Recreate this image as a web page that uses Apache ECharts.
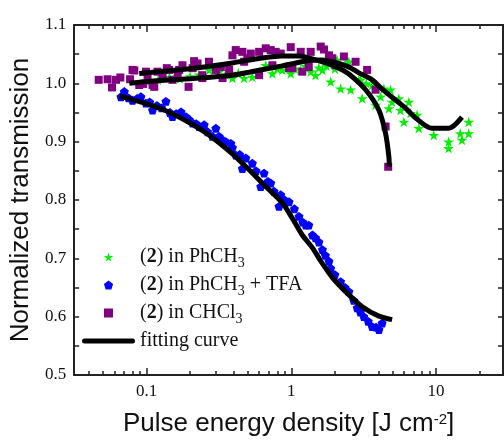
<!DOCTYPE html>
<html>
<head>
<meta charset="utf-8">
<script src="https://cdn.jsdelivr.net/npm/echarts@6/dist/echarts.min.js"></script>
<style>
html,body{margin:0;padding:0;background:#fff;}
#chart{width:504px;height:447px;}
</style>
</head>
<body>
<div id="chart"></div>
<script>
// ---- data ----
const xMajorTicks = [0.1, 1, 10];
const xMinorTicks = [0.04,0.05,0.06,0.07,0.08,0.09,0.2,0.3,0.4,0.5,0.6,0.7,0.8,0.9,2,3,4,5,6,7,8,9,20];
const yTickLabels = ['0.5','0.6','0.7','0.8','0.9','1.0','1.1'];

const seriesNames = ['PhCH3', 'PhCH3+TFA', 'CHCl3', 'fitting curve'];

const phch3 = [[0.1,1.004],[0.12,1.006],[0.144,1.011],[0.17,1.008],[0.2,1.012],[0.23,1.015],[0.271,1.023],[0.317,1.020],[0.35,1.015],[0.392,1.009],[0.43,1.018],[0.472,1.009],[0.538,1.011],[0.6,1.020],[0.666,1.031],[0.74,1.017],[0.8,1.025],[0.867,1.023],[0.93,1.028],[0.991,1.017],[1.06,1.025],[1.16,1.023],[1.25,1.030],[1.36,1.020],[1.47,1.014],[1.55,1.027],[1.64,1.023],[1.75,1.030],[1.87,1.003],[2.0,1.025],[2.07,1.040],[2.19,0.991],[2.35,1.032],[2.5,1.037],[2.57,0.989],[2.93,1.006],[3.01,1.006],[3.09,0.974],[3.3,1.000],[3.62,0.997],[3.82,0.963],[4.14,0.977],[4.36,0.991],[4.72,0.957],[4.85,0.989],[4.97,0.968],[5.53,0.974],[5.68,0.954],[5.99,0.934],[6.48,0.968],[6.66,0.949],[7.39,0.946],[7.6,0.923],[9.64,0.911],[12.2,0.900],[12.2,0.889],[14.7,0.914],[15.1,0.903],[16.8,0.934],[16.8,0.914]];

const phch3Tfa = [[0.0665,0.977],[0.0702,0.986],[0.075,0.975],[0.080,0.971],[0.086,0.974],[0.0914,0.977],[0.099,0.966],[0.105,0.968],[0.110,0.954],[0.118,0.962],[0.127,0.958],[0.136,0.969],[0.145,0.950],[0.151,0.943],[0.16,0.948],[0.173,0.951],[0.187,0.943],[0.197,0.938],[0.208,0.932],[0.22,0.931],[0.231,0.926],[0.25,0.929],[0.264,0.917],[0.285,0.909],[0.301,0.923],[0.317,0.909],[0.335,0.903],[0.353,0.900],[0.382,0.897],[0.392,0.890],[0.414,0.877],[0.44,0.878],[0.459,0.854],[0.485,0.872],[0.538,0.863],[0.57,0.850],[0.615,0.823],[0.648,0.846],[0.69,0.832],[0.721,0.829],[0.76,0.815],[0.822,0.789],[0.845,0.809],[0.9,0.800],[0.964,0.797],[1.05,0.785],[1.13,0.772],[1.2,0.762],[1.26,0.757],[1.32,0.757],[1.4,0.740],[1.47,0.735],[1.55,0.728],[1.64,0.715],[1.72,0.705],[1.82,0.695],[1.87,0.683],[2.0,0.672],[2.19,0.660],[2.35,0.650],[2.5,0.643],[2.7,0.628],[2.85,0.615],[3.0,0.608],[3.17,0.600],[3.4,0.592],[3.62,0.583],[3.85,0.582],[4.03,0.578],[4.24,0.589]];

const chcl3 = [[0.0467,1.006],[0.0538,1.007],[0.0577,0.993],[0.0615,1.006],[0.0659,1.010],[0.0769,1.007],[0.080,1.023],[0.0823,1.022],[0.089,0.997],[0.0949,0.999],[0.099,1.020],[0.1016,1.014],[0.110,0.997],[0.113,0.994],[0.119,1.020],[0.129,1.011],[0.138,1.026],[0.143,1.023],[0.151,1.006],[0.164,1.014],[0.168,1.023],[0.177,1.031],[0.195,0.994],[0.208,1.026],[0.213,1.038],[0.225,1.034],[0.243,1.014],[0.243,1.009],[0.270,1.037],[0.301,1.023],[0.326,1.028],[0.335,1.009],[0.372,1.023],[0.392,1.048],[0.413,1.057],[0.459,1.054],[0.472,1.037],[0.497,1.043],[0.525,1.051],[0.599,1.054],[0.599,1.014],[0.666,1.060],[0.721,1.057],[0.740,1.031],[0.780,1.054],[0.845,1.051],[0.964,1.026],[0.991,1.062],[1.016,1.026],[1.161,1.054],[1.19,1.020],[1.32,1.028],[1.361,1.054],[1.596,1.063],[1.682,1.058],[1.820,1.048],[1.919,1.043],[2.023,1.031],[2.309,1.046],[2.78,1.037],[3.34,1.023],[3.82,0.989],[4.48,0.926],[4.67,0.857]];

const fitPhch3 = [[0.076,1.000],[0.1,1.003],[0.2,1.008],[0.392,1.014],[0.51,1.019],[0.867,1.030],[1.32,1.039],[1.6,1.040],[1.92,1.037],[2.13,1.034],[2.5,1.028],[2.93,1.018],[3.62,1.006],[4.24,0.990],[5.53,0.967],[6.13,0.958],[7.2,0.941],[9.4,0.923],[12.2,0.923],[15.1,0.942]];
const fitTfa = [[0.065,0.978],[0.08,0.972],[0.1,0.965],[0.136,0.953],[0.2,0.932],[0.25,0.917],[0.3,0.903],[0.392,0.879],[0.5,0.854],[0.666,0.823],[0.867,0.795],[1.02,0.768],[1.19,0.740],[1.4,0.718],[1.6,0.695],[1.82,0.675],[2.0,0.662],[2.37,0.643],[3.09,0.617],[4.03,0.601],[4.97,0.595]];
const fitChcl3 = [[0.089,1.017],[0.15,1.022],[0.25,1.028],[0.392,1.035],[0.51,1.040],[0.867,1.047],[1.13,1.047],[1.26,1.045],[1.73,1.035],[2.13,1.026],[2.5,1.016],[3.26,0.989],[4.03,0.954],[4.48,0.914],[4.72,0.874],[4.75,0.857]];

// ---- chart ----
const STAR = 'path://M50,0 L61,35 L98,35 L68,57 L79,91 L50,70 L21,91 L32,57 L2,35 L39,35 Z';
const PENT = 'path://M50,0 L98,36 L80,95 L20,95 L2,36 Z';
const SQUARE = 'path://M0,0 L10,0 L10,10 L0,10 Z';
const BAR = 'path://M5,0 L101,0 A5,5 0 0 1 101,10 L5,10 A5,5 0 0 1 5,0 Z';
const AX = '#222';
const SERIF = '"Liberation Serif","Times New Roman",serif';
const SANS = '"Liberation Sans",Arial,sans-serif';
const XMIN = 0.0316, XMAX = 29;

const legendLabels = {
  'PhCH3': '({b|2}) in PhCH{sub|3}',
  'PhCH3+TFA': '({b|2}) in PhCH{sub|3} + TFA',
  'CHCl3': '({b|2}) in CHCl{sub|3}',
  'fitting curve': 'fitting curve'
};
const legendIcons = {'PhCH3': STAR, 'PhCH3+TFA': PENT, 'CHCl3': SQUARE, 'fitting curve': BAR};

function xAxisDef(pos, values, len, labels) {
  return {
    type: 'log', logBase: 10, min: XMIN, max: XMAX, position: pos,
    axisLine: {show: true, onZero: false, lineStyle: {color: AX, width: 2}},
    axisTick: {show: true, inside: true, length: len, customValues: values, lineStyle: {color: AX, width: 1.5}},
    axisLabel: labels ? {show: true, customValues: xMajorTicks, margin: 8, color: '#111', fontFamily: SERIF, fontSize: 17,
      formatter: v => String(v)} : {show: false},
    splitLine: {show: false}, minorTick: {show: false}
  };
}

const chart = echarts.init(document.getElementById('chart'), null, {renderer: 'canvas'});
chart.setOption({
  animation: false,
  backgroundColor: '#fff',
  grid: {left: 73, right: 1, top: 25, bottom: 72, containLabel: false},
  legend: {
    show: true, selectedMode: false, orient: 'vertical', left: 82, top: 244, padding: 0,
    itemWidth: 53, itemHeight: 9, itemGap: 2, symbolKeepAspect: true,
    data: seriesNames.map(n => ({name: n, icon: legendIcons[n]})),
    formatter: n => legendLabels[n],
    textStyle: {
      fontFamily: SERIF, fontSize: 20, color: '#111', lineHeight: 26,
      rich: {
        b: {fontFamily: SERIF, fontSize: 20, fontWeight: 'bold', color: '#111', lineHeight: 26},
        sub: {fontFamily: SERIF, fontSize: 14, color: '#111', lineHeight: 6, verticalAlign: 'bottom'}
      }
    }
  },
  xAxis: [
    Object.assign(xAxisDef('bottom', xMajorTicks, 7, true), {
      name: 'Pulse energy density [J cm{sup|-2}]', nameLocation: 'middle', nameGap: 37,
      nameTextStyle: {fontFamily: SANS, fontSize: 26, color: '#111', lineHeight: 24,
        rich: {sup: {fontFamily: SANS, fontSize: 15, color: '#111', lineHeight: 6, verticalAlign: 'top'}}}
    }),
    xAxisDef('bottom', xMinorTicks, 4, false),
    xAxisDef('top', xMajorTicks, 7, false),
    xAxisDef('top', xMinorTicks, 4, false)
  ],
  yAxis: [
    {
      type: 'value', min: 0.5, max: 1.1, interval: 0.05, position: 'left',
      name: 'Normalized transmission', nameLocation: 'middle', nameGap: 31,
      nameTextStyle: {fontFamily: SANS, fontSize: 26, color: '#111'},
      axisLine: {show: true, onZero: false, lineStyle: {color: AX, width: 2}},
      axisTick: {show: true, inside: true, length: 5, lineStyle: {color: AX, width: 1.5}},
      axisLabel: {margin: 8, color: '#111', fontFamily: SERIF, fontSize: 17,
        formatter: v => { const k = Math.round(v * 20); return k % 2 === 0 ? yTickLabels[(k - 10) / 2] : ''; }},
      splitLine: {show: false}
    },
    {
      type: 'value', min: 0.5, max: 1.1, interval: 0.05, position: 'right',
      axisLine: {show: true, onZero: false, lineStyle: {color: AX, width: 2}},
      axisTick: {show: true, inside: true, length: 5, lineStyle: {color: AX, width: 1.5}},
      axisLabel: {show: false}, splitLine: {show: false}
    }
  ],
  series: [
    {name: 'PhCH3', type: 'scatter', data: phch3, symbol: STAR, symbolSize: 11, symbolKeepAspect: true,
      itemStyle: {color: '#00f000', opacity: 1}, z: 2},
    {name: 'PhCH3+TFA', type: 'scatter', data: phch3Tfa, symbol: PENT, symbolSize: 9, symbolKeepAspect: true,
      itemStyle: {color: '#0000ff', opacity: 1}, z: 2},
    {name: 'CHCl3', type: 'scatter', data: chcl3, symbol: 'rect', symbolSize: 8,
      itemStyle: {color: '#800080', opacity: 1}, z: 2},
    {name: 'fitting curve', type: 'line', data: fitPhch3, showSymbol: false, symbol: 'none', smooth: 0.3,
      lineStyle: {color: '#000', width: 5}, itemStyle: {color: '#000'}, z: 3},
    {name: 'fitting curve', type: 'line', data: fitTfa, showSymbol: false, symbol: 'none', smooth: 0.3,
      lineStyle: {color: '#000', width: 5}, itemStyle: {color: '#000'}, z: 3},
    {name: 'fitting curve', type: 'line', data: fitChcl3, showSymbol: false, symbol: 'none', smooth: 0.3,
      lineStyle: {color: '#000', width: 5}, itemStyle: {color: '#000'}, z: 3}
  ]
});
</script>
</body>
</html>
